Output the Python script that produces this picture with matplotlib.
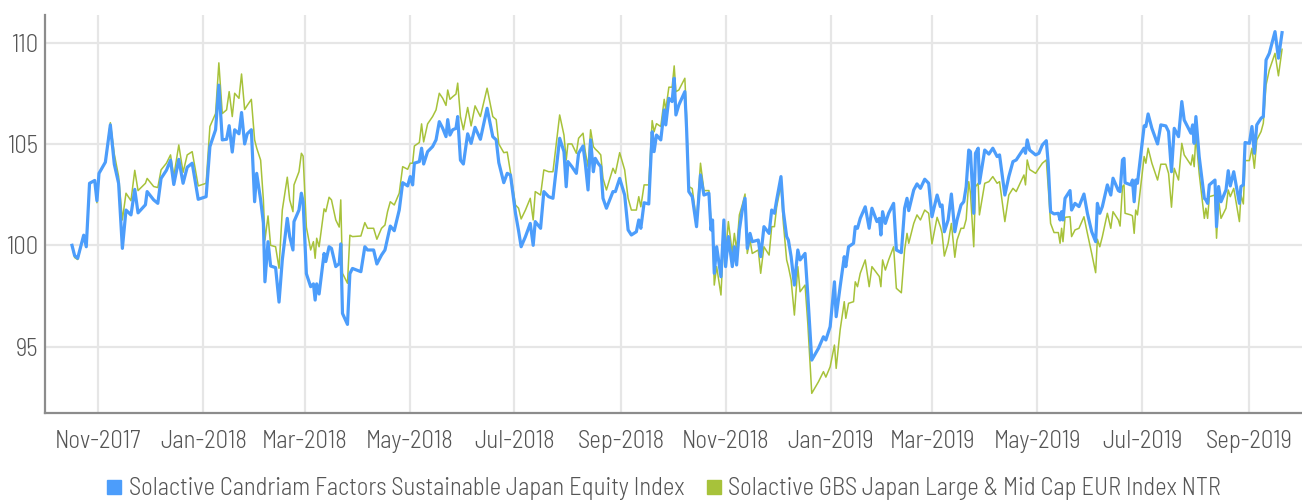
import matplotlib
matplotlib.use('Agg')
import matplotlib.pyplot as plt
import matplotlib.dates as mdates
from matplotlib.lines import Line2D
import pandas as pd

# days counted from 1 Nov 2017
days = [
    -15.3, -13.8, -12.0, -8.5, -7.0, -5.1, -2.1, -0.8, 0.4, 4.1, 7.0, 9.3, 11.8, 14.0, 16.1, 19.0,
    21.2, 23.1, 27.4, 28.4, 32.2, 34.6, 36.5, 39.6, 42.0, 43.9, 46.8, 49.3, 51.7, 54.6, 58.1, 62.7,
    64.9, 68.2, 70.1, 72.1, 74.6, 76.1, 77.9, 79.3, 81.8, 83.3, 85.1, 86.6, 89.0,
    90.9, 92.1, 94.4, 96.0, 96.9, 98.7, 100.2, 103.1, 105.1, 107.0, 109.9, 111.3, 113.2, 113.8, 116.7,
    118.1, 119.1, 121.0, 123.5, 125.1, 126.1, 127.0, 128.4, 131.3, 132.3, 134.2, 135.6, 138.1, 140.1,
    141.0, 142.0, 144.9, 146.3, 147.8, 152.7, 155.0, 156.6, 160.1, 162.0, 164.7, 166.7, 168.2, 169.8,
    172.1, 175.0, 177.0, 179.9, 181.4, 182.8, 183.8, 186.7, 188.0, 189.2, 191.5, 194.4, 196.4, 198.3,
    200.3, 202.2, 203.2, 204.5, 206.1, 208.0, 209.0, 210.6, 212.3, 214.8,
    216.8, 219.1, 222.2, 226.1, 229.4, 231.4, 232.9, 235.8, 237.8, 239.7, 242.6, 244.4, 245.9, 248.4,
    251.2, 252.9, 254.1, 257.2, 259.1, 261.9, 264.4, 268.3, 270.8, 272.1, 273.1, 275.4, 278.0, 279.3,
    281.9, 283.2, 284.8, 286.3, 287.9, 289.0, 290.6, 292.2, 293.5, 295.5, 299.3, 300.7, 303.2, 306.1,
    308.1, 310.0, 312.9, 314.3, 315.5, 317.4, 320.1, 322.1, 323.2, 324.6, 327.1, 329.1, 330.0, 331.8,
    333.7, 334.9, 335.9, 337.6,
    341.1, 342.1, 343.4, 345.4, 347.9, 350.2, 352.2, 355.1, 356.3, 357.2, 358.2, 359.6, 362.1, 363.8,
    364.8, 366.4, 368.7, 369.9, 371.2, 372.8, 374.5, 376.1, 377.4, 379.0, 380.3, 383.8, 385.2, 387.1,
    390.1, 391.6, 393.2, 394.5, 397.0, 398.4, 400.3, 401.3, 402.9, 404.8, 406.8, 408.1, 411.0, 412.6,
    414.9, 418.8, 421.7, 423.1, 425.6, 428.1, 429.1, 431.4, 433.8, 434.7, 436.3, 439.2, 440.2, 441.5,
    443.1, 446.0, 448.3, 449.9, 452.8, 454.2, 455.1, 456.1, 457.7,
    459.6, 462.5, 464.1, 467.0, 468.9, 470.3, 471.3, 474.2, 476.1, 478.1, 480.6, 482.9, 484.8, 487.8,
    489.7, 490.7, 492.0, 494.2, 496.1, 498.1, 499.4, 501.7, 503.3, 504.7, 506.2, 507.2, 509.1, 510.1,
    511.7, 512.4, 515.5, 517.9, 520.2, 522.7, 524.1, 527.2, 529.5, 531.9, 533.8, 538.3, 539.2, 540.2,
    541.6, 545.1, 547.0, 549.0, 551.3, 552.4, 553.8, 555.8, 558.3, 559.3, 560.2, 561.0, 562.2, 565.1,
    566.0, 568.0, 570.3, 573.2, 575.2, 577.7, 580.0, 581.0, 582.4, 583.9,
    586.8, 588.8, 590.1, 593.2, 594.2, 595.6, 596.5, 597.1, 600.4, 601.4, 602.4, 603.3, 604.3, 608.2,
    609.2, 610.5, 612.7, 616.0, 617.9, 620.8, 622.4, 624.1, 625.7, 628.2, 630.1, 631.5, 635.4, 636.4,
    637.3, 638.3, 640.2, 643.2, 644.1, 645.1, 646.1, 649.4, 650.3, 651.5, 652.9, 655.8, 657.1, 658.3,
    660.3, 663.6, 664.5, 665.9, 666.9, 669.4, 670.9, 672.3, 673.7, 676.2, 677.5, 679.1, 681.0, 684.3,
    686.3, 688.4,
]

candriam = [
    100.0, 99.5, 99.36, 100.5, 99.93, 103.06, 103.2, 102.2, 103.55, 104.1, 105.94, 104.0, 103.06, 99.85, 101.74, 101.5,
    102.76, 101.6, 102.0, 102.65, 102.24, 102.07, 103.3, 103.7, 104.2, 103.0, 104.24, 103.06, 103.85, 104.05, 102.27, 102.4,
    104.87, 105.7, 107.9, 105.2, 105.23, 105.9, 104.6, 105.7, 105.5, 106.55, 105.0, 105.5, 105.7,
    102.15, 103.55, 102.24, 101.1, 98.2, 100.18, 98.98, 98.9, 97.2, 99.28, 101.33, 100.43, 99.77, 101.17, 101.74,
    102.57, 102.15, 98.6, 97.96, 98.1, 97.3, 98.1, 97.6, 99.6, 99.2, 99.93, 99.85, 98.95, 99.1,
    100.07, 96.64, 96.1, 98.6, 98.86, 98.7, 99.93, 99.77, 99.77, 99.08, 99.52, 99.77, 100.35, 100.95,
    100.72, 101.74, 103.09, 102.93, 103.39, 102.98, 104.05, 104.13, 104.79, 104.01, 104.62, 104.87, 105.2, 106.1,
    105.77, 105.36, 106.2, 105.44, 105.7, 105.77, 106.35, 104.2, 104.01, 105.5,
    105.03, 105.82, 105.23, 106.76, 105.36, 105.2, 104.08, 103.09, 103.55, 103.47, 101.58, 100.72, 99.93, 100.43,
    101.08, 100.0, 101.17, 100.84, 102.65, 102.4, 102.32, 105.28, 104.62, 102.89, 104.13, 103.88, 103.55, 104.54,
    104.9, 104.05, 102.73, 105.2, 103.63, 104.29, 104.05, 103.88, 102.32, 101.83, 102.65, 102.65, 103.3, 102.48,
    100.76, 100.51, 100.67, 101.25, 100.84, 102.1, 102.04, 105.6, 104.62, 105.44, 105.2, 106.68, 105.94, 107.25,
    107.09, 108.24, 106.43, 106.92,
    107.58, 105.77, 102.65, 102.4, 100.92, 103.47, 102.48, 102.57, 100.76, 101.25, 98.62, 99.93, 98.45, 101.25,
    98.95, 100.43, 98.95, 99.93, 99.03, 100.76, 101.74, 102.32, 99.85, 100.59, 100.18, 100.26, 99.44, 100.92,
    100.59, 101.74, 101.58, 102.24, 103.39, 101.66, 100.43, 100.26, 99.44, 98.04, 99.77, 99.28, 99.6, 97.55,
    94.34, 94.92, 95.49, 95.33, 95.99, 98.2, 96.48, 97.96, 99.44, 98.95, 99.93, 100.1, 100.92, 100.84,
    101.33, 101.9, 100.84, 101.83, 101.17, 101.33, 100.51, 101.66, 101.08,
    101.58, 102.07, 99.77, 99.64, 101.83, 102.32, 101.71, 102.73, 103.03, 102.81, 103.26, 103.06, 101.41, 102.48,
    101.91, 101.99, 100.67, 101.25, 102.53, 100.67, 101.25, 101.99, 102.15, 102.89, 104.7, 104.62, 101.58, 104.54,
    104.79, 103.06, 104.7, 104.5, 104.79, 104.38, 104.46, 102.48, 103.39, 104.13, 104.21, 104.79, 104.54, 105.2,
    104.7, 104.46, 104.54, 104.95, 105.16, 104.05, 101.66, 101.55, 101.58, 101.25, 101.66, 101.25, 102.32, 102.7,
    101.74, 102.07, 101.91, 102.53, 101.58, 100.67, 100.18, 102.07, 101.58, 101.91,
    102.98, 102.48, 103.31, 102.7, 102.65, 104.21, 104.29, 103.09, 102.98, 103.22, 102.15, 103.22, 103.06, 105.89,
    105.86, 106.48, 105.77, 105.0, 105.94, 105.89, 105.61, 103.63, 105.77, 105.36, 107.09, 106.18, 105.53, 105.94,
    105.03, 106.35, 104.38, 102.32, 102.24, 102.07, 102.98, 103.22, 100.92, 102.9, 102.15, 102.73, 103.68, 102.93,
    103.63, 102.07, 102.9, 102.98, 105.07, 105.03, 105.86, 104.54, 105.94, 106.27, 106.35, 109.14, 109.47, 110.54,
    109.23, 110.49,
]

gbs = [
    100.0, 99.4, 99.3, 100.5, 99.9, 103.06, 103.2, 102.1, 103.55, 104.1, 106.05, 104.5, 103.4, 101.25, 102.57, 102.2,
    103.7, 102.7, 103.06, 103.3, 102.9, 102.85, 103.72, 104.05, 104.46, 103.4, 104.95, 103.6, 104.46, 104.62, 102.93, 103.06,
    105.86, 106.5, 109.0, 106.5, 106.68, 107.58, 106.35, 107.5, 107.25, 108.45, 106.7, 106.9, 107.2,
    105.2, 104.8, 104.2, 102.24, 100.26, 101.45, 100.0, 99.93, 98.87, 101.74, 103.36, 102.24, 101.66, 102.98, 103.63,
    104.54, 104.4, 100.9, 99.77, 100.18, 99.36, 100.35, 99.93, 101.8, 101.66, 102.37, 102.24, 101.25, 100.9,
    102.24, 98.62, 98.13, 100.5, 100.43, 100.46, 101.12, 100.84, 100.84, 100.3, 100.84, 101.0, 101.66, 102.15,
    101.99, 102.57, 103.88, 103.75, 104.05, 104.05, 104.9, 105.07, 105.99, 105.1, 105.99, 106.35, 106.68, 107.5,
    107.25, 106.9, 107.66, 107.2, 107.33, 107.46, 108.0, 106.35, 105.7, 106.8,
    105.89, 106.88, 106.35, 107.75, 106.35, 106.2, 105.0, 104.57, 104.6, 103.6, 101.99, 101.83, 101.3, 101.74,
    102.32, 101.25, 102.65, 102.48, 103.72, 103.63, 103.63, 106.43, 105.44, 104.2, 105.0, 105.0, 104.54, 105.28,
    105.53, 104.62, 103.88, 105.7, 104.87, 104.75, 104.62, 104.46, 103.3, 102.73, 103.8, 103.55, 104.57, 103.72,
    102.32, 101.74, 101.74, 102.4, 101.9, 102.98, 102.98, 106.15, 105.6, 106.0, 105.86, 107.2, 106.68, 107.8,
    107.8, 108.85, 107.58, 107.66,
    108.24, 106.35, 102.9, 102.8, 101.17, 104.05, 102.7, 102.7, 101.2, 101.2, 98.04, 98.95, 97.55, 100.59,
    99.6, 101.17, 99.6, 100.59, 99.77, 101.5, 101.99, 102.53, 99.6, 100.26, 99.6, 99.77, 98.62, 99.93,
    99.52, 100.92, 100.92, 101.9, 102.98, 101.08, 99.28, 98.95, 98.29, 96.56, 98.95, 97.71, 98.04, 96.15,
    92.7, 93.27, 93.77, 93.5, 94.01, 95.08, 93.93, 95.82, 97.22, 96.4, 97.14, 97.22, 98.2, 97.96,
    98.62, 99.28, 97.96, 98.95, 98.62, 98.46, 97.96, 99.28, 98.78,
    99.28, 99.93, 97.88, 97.66, 99.77, 100.59, 100.1, 101.08, 101.5, 101.25, 101.74, 101.58, 100.07, 101.38,
    100.92, 100.59, 99.47, 100.1, 101.08, 99.41, 100.26, 100.84, 100.84, 101.28, 103.14, 102.57, 99.93, 102.89,
    103.06, 101.5, 103.06, 103.14, 103.39, 103.06, 103.14, 101.17, 102.48, 102.81, 102.65, 103.47, 102.98, 104.21,
    103.74, 103.55, 103.8, 104.05, 104.21, 102.9, 101.08, 100.63, 100.63, 100.1, 100.84, 100.18, 101.38, 101.41,
    100.43, 100.76, 100.84, 101.41, 100.59, 99.6, 98.65, 100.3, 99.93, 100.43,
    101.58, 100.84, 101.66, 101.25, 100.95, 102.9, 102.98, 101.58, 101.5, 101.45, 100.59, 101.74, 101.5, 104.38,
    104.05, 104.79, 104.05, 103.22, 104.0, 104.0, 103.55, 101.88, 103.8, 103.22, 105.03, 104.46, 103.96, 104.46,
    103.88, 105.44, 103.55, 101.33, 101.83, 101.33, 102.4, 102.48, 100.35, 102.24, 101.33, 101.83, 102.73, 102.4,
    102.81, 101.17, 102.48, 102.04, 104.18, 104.18, 104.79, 103.8, 105.2, 105.61, 106.02, 107.91, 108.65, 109.47,
    108.36, 109.67,
]

labels = ['Solactive Candriam Factors Sustainable Japan Equity Index',
          'Solactive GBS Japan Large & Mid Cap EUR Index NTR']
blue = '#4c9dfb'
green = '#a7c23a'

plt.rcParams['font.family'] = ['Barlow Semi Condensed', 'DejaVu Sans']
plt.rcParams['font.weight'] = 300

dates = pd.Timestamp('2017-11-01') + pd.to_timedelta(days, unit='D')

fig = plt.figure(figsize=(13.02, 5.0), dpi=100)
ax = fig.add_axes([45 / 1302, 1 - 413 / 500, 1 - 45 / 1302, (413 - 15) / 500])

ax.plot(dates, gbs, color=green, lw=1.1, zorder=3)
ax.plot(dates, candriam, color=blue, lw=2.3, zorder=4)

ax.set_xlim(pd.Timestamp('2017-10-01'), pd.Timestamp('2019-10-02'))
ax.set_ylim(91.73, 111.36)
ax.set_yticks([95, 100, 105, 110])
ax.xaxis.set_major_locator(mdates.MonthLocator(bymonth=[1, 3, 5, 7, 9, 11]))
ax.xaxis.set_major_formatter(mdates.DateFormatter('%b-%Y'))

ax.grid(True, color='#e6e6e6', lw=1.6, zorder=0)
ax.set_axisbelow(True)
for s in ['top', 'right']:
    ax.spines[s].set_visible(False)
for s in ['left', 'bottom']:
    ax.spines[s].set_color('#8c8c8c')
    ax.spines[s].set_linewidth(1.6)
ax.tick_params(axis='both', length=0, labelsize=17.8, colors='#555555')
ax.tick_params(axis='x', pad=12)
ax.tick_params(axis='y', pad=5)

handles = [Line2D([], [], marker='s', ls='none', color=blue, markersize=9.5),
           Line2D([], [], marker='s', ls='none', color=green, markersize=9.5)]
fig.legend(handles, labels, loc='center', bbox_to_anchor=(0.508, 0.022), ncol=2, frameon=False,
           fontsize=17.7, labelcolor='#555555', handletextpad=0.1, columnspacing=0.7,
           handlelength=1.0)

fig.savefig('out.png', dpi=100)
